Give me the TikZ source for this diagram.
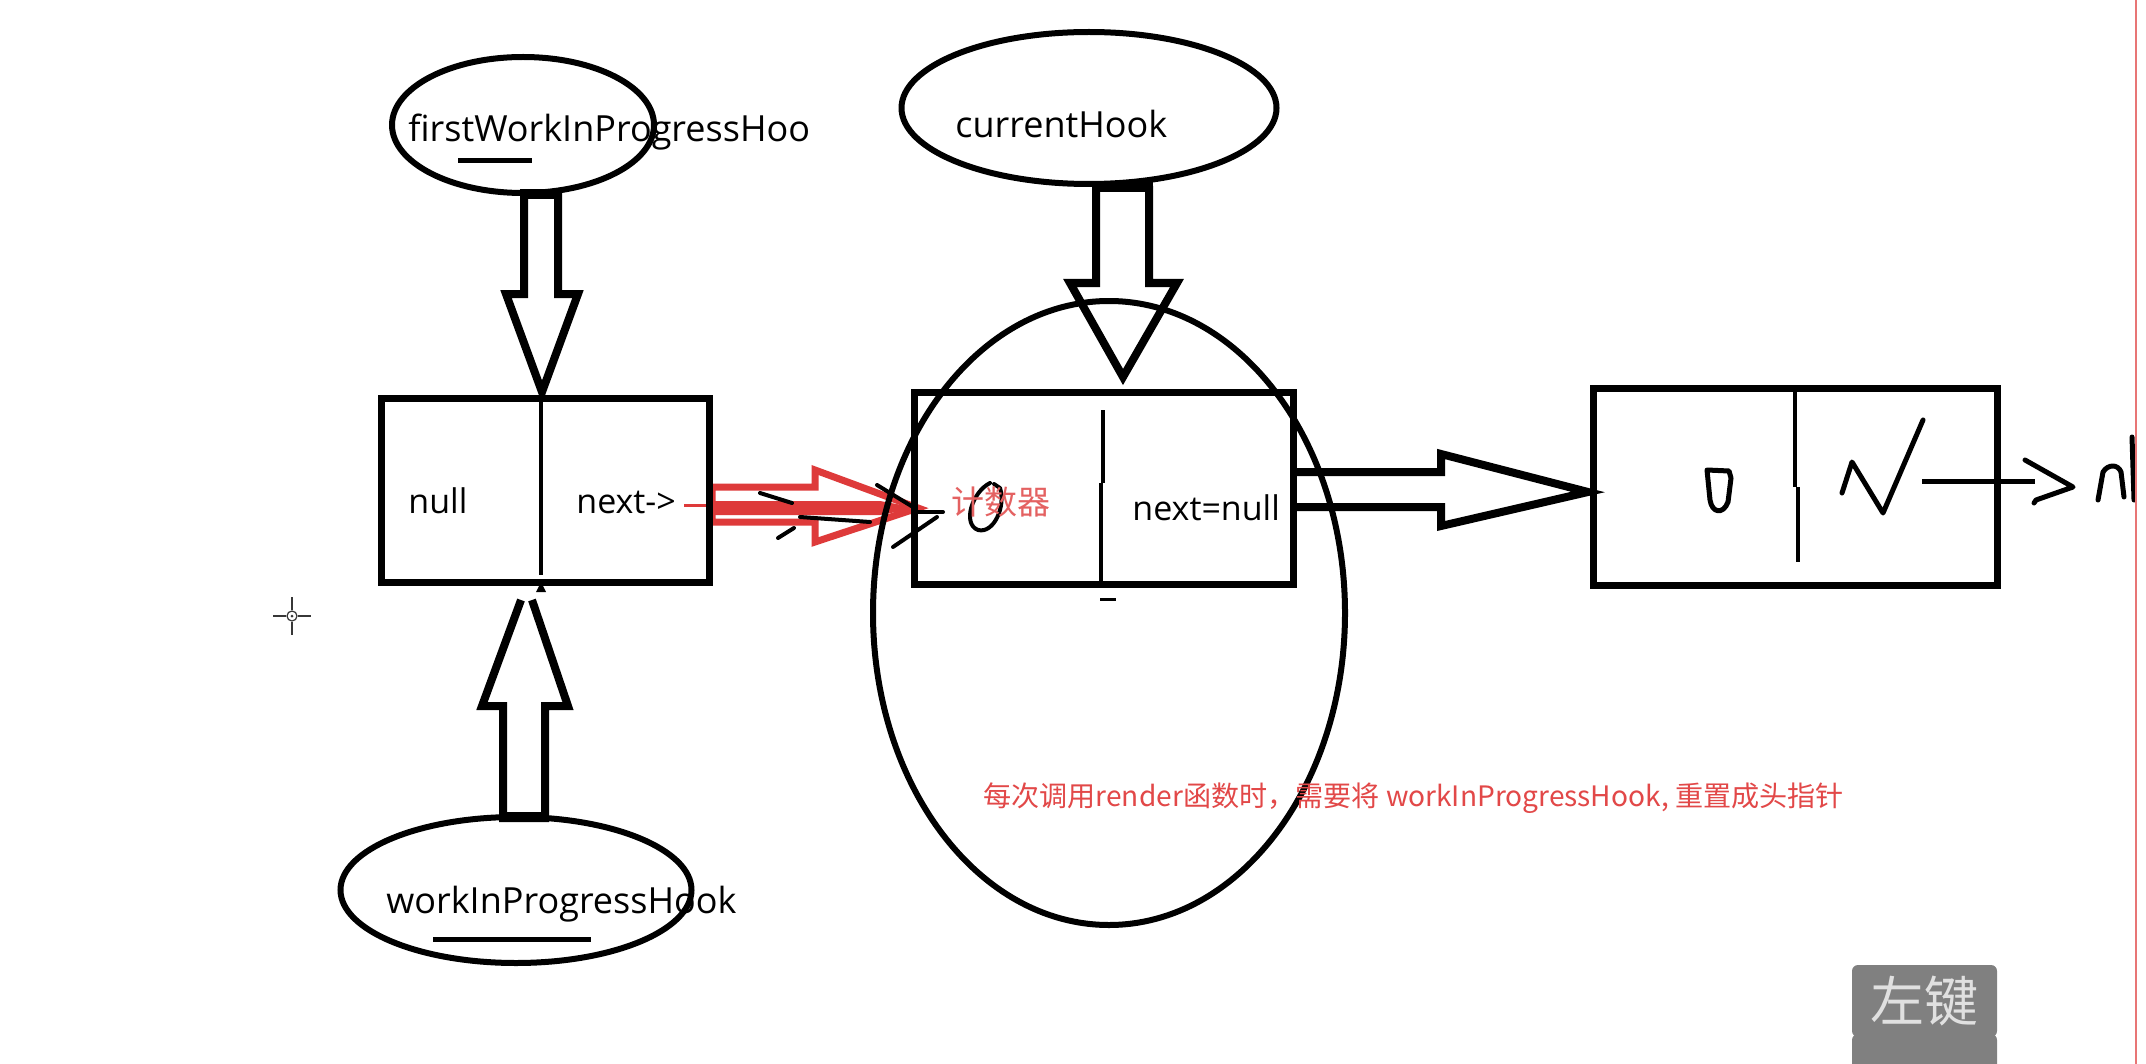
\documentclass[tikz,border=0pt]{standalone}
\usepackage{fontspec}
\setmainfont{Open Sans}
\newfontfamily\cjk{Noto Sans CJK SC}
\usetikzlibrary{shapes.geometric}
\definecolor{pred}{RGB}{222,58,58}
\definecolor{notered}{RGB}{226,72,72}
\definecolor{keygray}{RGB}{128,128,128}
\definecolor{cursorgray}{RGB}{55,55,55}
\begin{document}
\begin{tikzpicture}[x=0.5pt,y=-0.5pt,
  ell/.style={draw, ellipse, line width=3pt, inner sep=0pt},
  box/.style={draw, rectangle, line width=3.5pt, inner sep=0pt},
  blk/.style={draw, line width=4pt, line join=miter},
  redblk/.style={draw=pred, line width=3.5pt, line join=miter},
  divider/.style={line width=2pt},
  scrib/.style={line width=2pt, line cap=round, line join=round},
  lbl/.style={inner sep=0pt, anchor=base west, font=\fontsize{18}{20}\selectfont},
  cell/.style={inner sep=0pt, anchor=base west, font=\fontsize{17}{20}\selectfont}]
\useasboundingbox (0,0) rectangle (2146,1064);
\fill[white] (0,0) rectangle (2146,1064);

% red hand-drawn arrow (under the big ellipse)
\draw[pred, line width=1.5pt] (684,505) -- (712,505);
\draw[redblk] (712,487) -- (815,487) -- (815,470) -- (918,508) -- (815,542) -- (815,522) -- (712,522) -- cycle;
\fill[pred] (712,501) -- (880,501) -- (918,508) -- (880,515) -- (712,515) -- cycle;

% ellipses
\node[ell, minimum width=131pt, minimum height=68pt] (e1) at (523,125) {};
\node[ell, minimum width=175.5pt, minimum height=73pt] (e2) at (516,890) {};
\node[ell, minimum width=187.5pt, minimum height=76pt] (e3) at (1089,108) {};
\node[ell, minimum width=236pt, minimum height=312pt] (big) at (1109,613) {};

% boxes
\node[box, minimum width=164pt, minimum height=92pt] (b1) at (545.5,490.5) {};
\node[box, minimum width=189.5pt, minimum height=96pt] (b2) at (1104,488.5) {};
\node[box, minimum width=202pt, minimum height=98.5pt] (b3) at (1795.5,487) {};

% dividers
\draw[divider] (541,397) -- (541,575);
\draw[divider] (1103,410) -- (1103,483);
\draw[divider] (1101,483) -- (1101,587);
\draw[line width=1.5pt] (1100,599) -- (1116,599);
\draw[divider] (1795,391) -- (1795,487);
\draw[divider] (1798,487) -- (1798,562);

% block arrows
\draw[blk] (524,193) -- (524,294) -- (506,294) -- (542,392) -- (578,294) -- (558,294) -- (558,193);
\fill (520,189) rectangle (562,199);
\draw[blk] (521,600) -- (482,706) -- (503,706) -- (503,818) -- (545,818) -- (545,706) -- (568,706) -- (532,600);
\fill (500,812) rectangle (548,822);
\fill (541,582) -- (536,592) -- (546,592) -- cycle;
\draw[blk] (1096,186) -- (1096,283) -- (1070,283) -- (1123,377) -- (1177,283) -- (1149,283) -- (1149,186);
\fill (1092,182) rectangle (1153,192);
\draw[blk] (1297,472) -- (1441,472) -- (1441,454) -- (1588,492) -- (1441,526) -- (1441,507) -- (1297,507);

% black scribbles of the first hand-drawn arrow
\draw[scrib] (760,493) -- (792,503);
\draw[scrib] (800,517) -- (870,522);
\draw[scrib] (778,538) -- (794,528);
\draw[scrib] (877,485) -- (913,507);
\draw[scrib] (913,512) -- (943,512);
\draw[scrib] (893,547) -- (937,517);

% handwritten zero in box 2
\draw[scrib] (990,483) .. controls (972,492) and (962,524) .. (978,530) .. controls (994,534) and (1006,506) .. (1000,488) -- (994,484);
% handwritten zero in box 3
\draw[scrib, line width=2.5pt] (1707,470) -- (1710,500) .. controls (1712,513) and (1723,515) .. (1728,502) -- (1731,478) -- (1729,471) -- cycle;
% check mark and pointer to null
\draw[scrib, line width=2.5pt] (1842,493) -- (1852,462) -- (1883,513) -- (1923,420);
\draw[line width=2.5pt] (1922,481) -- (2035,481);
\draw[scrib, line width=2.5pt] (2025,460) -- (2073,487) -- (2036,500) -- (2034,503);
\draw[scrib, line width=2.5pt] (2098,500) -- (2103,472) .. controls (2108,464) and (2118,464) .. (2121,472) -- (2124,497);
\draw[scrib, line width=2.5pt] (2132,437) -- (2134,500);
\fill[white] (2136,0) rectangle (2146,1064);
\draw[pred!70, line width=0.8pt] (2136,0) -- (2136,1064);

% texts
\node[lbl] (t1) at (408,142) {firstWorkInProgressHoo};
\draw[line width=2.5pt] (458,161) -- (532,161);
\node[lbl] (t2) at (386,913) {workInProgressHook};
\draw[line width=2.5pt] (433,939) -- (591,939);
\node[lbl] (t3) at (955,138) {currentHook};
\node[cell] (tnull) at (408,513) {null};
\node[cell] (tnext) at (576,513) {next->};
\node[cell] (tnn) at (1132,520) {next=null};
\node[inner sep=0pt, anchor=base west, text=pred!80, font=\cjk\fontsize{16.5}{20}\selectfont] (tcnt) at (951,514) {计数器};
\node[inner sep=0pt, anchor=base west, text=notered, font=\cjk\fontsize{14.05}{18}\selectfont] (note) at (983,806) {每次调用render函数时，需要将 workInProgressHook, 重置成头指针};

% cursor
\draw[cursorgray, line width=1.3pt] (292,597) -- (292,610) (292,622) -- (292,635) (273,616) -- (286,616) (298,616) -- (311,616);
\draw[cursorgray, line width=0.6pt] (292,616) circle[radius=5];
\fill[cursorgray] (292,616) circle[radius=1.5];

% key overlay
\node[fill=keygray, rounded corners=3pt, minimum width=72.5pt, minimum height=36pt, inner sep=0pt, text=black!12, font=\cjk\fontsize{27}{30}\selectfont] (key1) at (1924.5,1001) {左键};
\node[fill=keygray, rounded corners=3pt, minimum width=72.5pt, minimum height=36pt, inner sep=0pt] (key2) at (1924.5,1070) {};
\end{tikzpicture}
\end{document}
